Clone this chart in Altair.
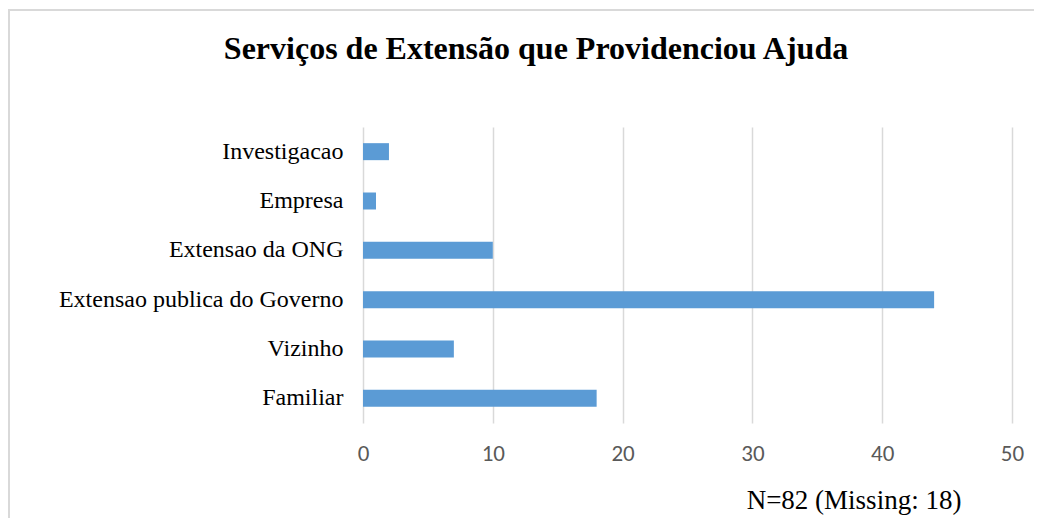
import altair as alt
import pandas as pd

categories = ["Investigacao", "Empresa", "Extensao da ONG",
              "Extensao publica do Governo", "Vizinho", "Familiar"]
values = [2, 1, 10, 44, 7, 18]
x_ticks = [0, 10, 20, 30, 40, 50]
title_text = "Serviços de Extensão que Providenciou Ajuda"
note_text = "N=82 (Missing: 18)"

df = pd.DataFrame({"cat": categories, "val": values})
one = pd.DataFrame({"k": [0]})

serif = "Liberation Serif, Times New Roman, serif"
sans = "Carlito, Lato, sans-serif"

bars = alt.Chart(df).mark_bar(size=17, color="#5b9bd5").encode(
    x=alt.X("val:Q",
            scale=alt.Scale(domain=[0, 50], nice=False),
            axis=alt.Axis(values=x_ticks, title=None, grid=True, gridColor="#d9d9d9",
                          gridWidth=1.5, domain=False, ticks=False, labelFlush=False,
                          labelFont=sans, labelFontSize=23, labelColor="#595959",
                          labelPadding=19)),
    y=alt.Y("cat:N", sort=categories,
            axis=alt.Axis(title=None, domain=False, ticks=False, grid=False,
                          labelFont=serif, labelFontSize=24, labelColor="#000000",
                          labelPadding=20, labelLimit=400)),
)

title = alt.Chart(one).mark_text(
    text=title_text, font=serif, fontSize=32, fontWeight="bold", color="#000000",
    align="center", baseline="alphabetic"
).encode(x=alt.value(173), y=alt.value(-68))

note = alt.Chart(one).mark_text(
    text=note_text, font=serif, fontSize=27, color="#000000",
    align="center", baseline="alphabetic"
).encode(x=alt.value(491), y=alt.value(382))

border_left = alt.Chart(one).mark_rule(color="#d9d9d9", strokeWidth=2).encode(
    x=alt.value(-354), y=alt.value(-117), y2=alt.value(400))
border_top = alt.Chart(one).mark_rule(color="#d9d9d9", strokeWidth=2).encode(
    x=alt.value(-355), x2=alt.value(680), y=alt.value(-117))

chart = alt.layer(border_left, border_top, bars, title, note).properties(
    width=649, height=296,
    autosize=alt.AutoSizeParams(type="none"),
    padding={"left": 355, "top": 119, "right": 22, "bottom": 95},
).configure(background="#ffffff").configure_view(stroke=None)

chart.save("out.html", embed_options={"renderer": "svg", "actions": False})
